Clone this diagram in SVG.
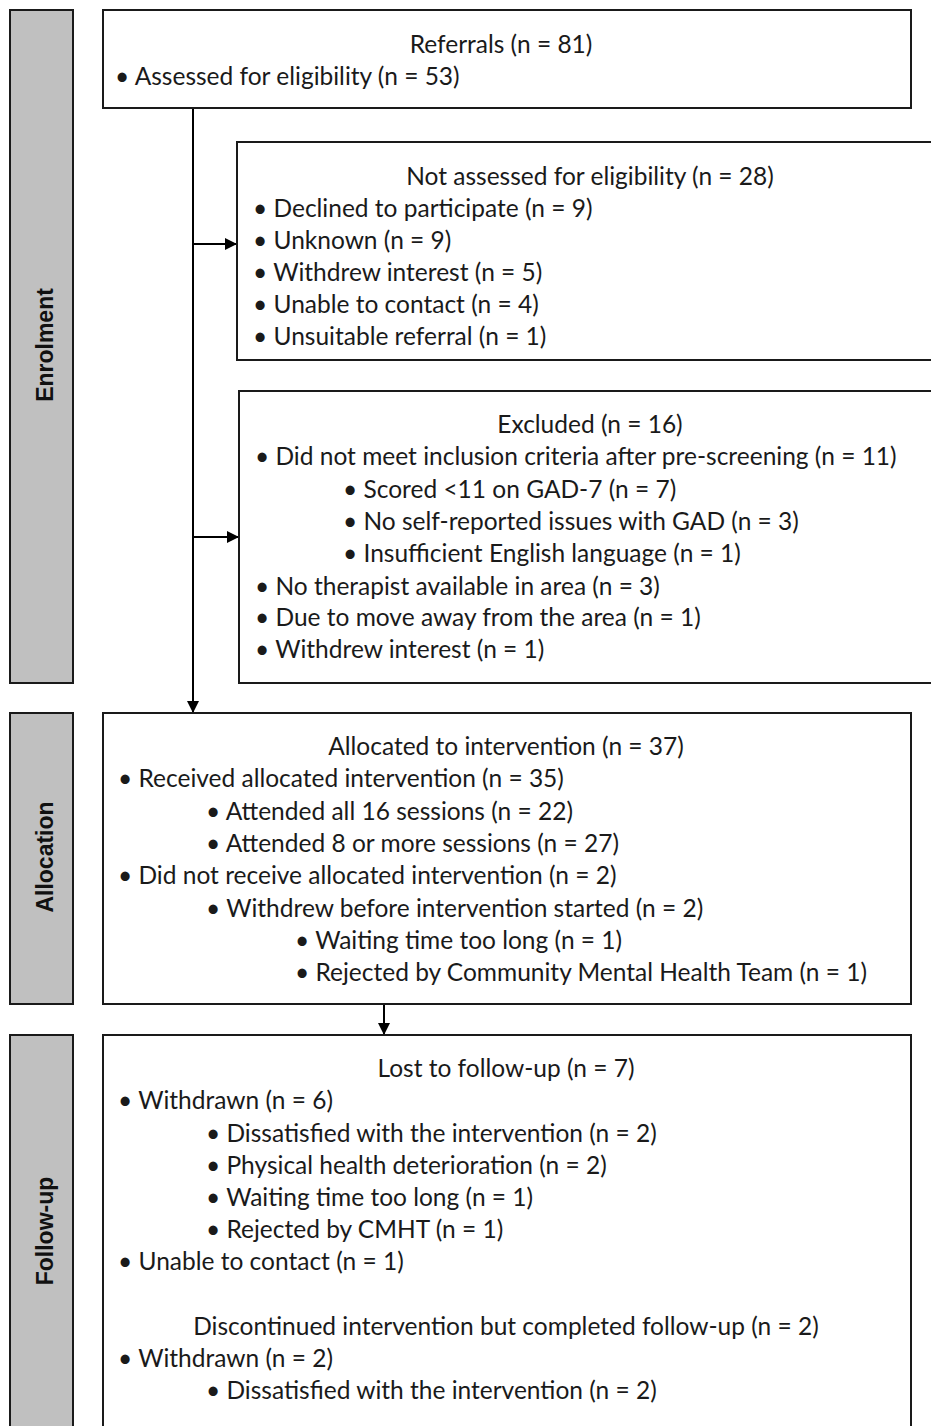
<svg xmlns="http://www.w3.org/2000/svg" width="931" height="1426" viewBox="0 0 931 1426">
<defs>
<marker id="ah" markerWidth="12" markerHeight="12" refX="11" refY="6" orient="auto" markerUnits="userSpaceOnUse">
<path d="M0,0 L12,6 L0,12 Z" fill="#000"/>
</marker>
<style>
.bar{fill:#c0c0c0;stroke:#1a1a1a;stroke-width:2}
.box{fill:#fff;stroke:#1a1a1a;stroke-width:2}
.lbl{font-family:"Liberation Sans",Arial,sans-serif;font-weight:bold;font-size:23px;fill:#111;text-anchor:middle}
.t{font-family:Lato,"Open Sans",sans-serif;font-size:24.5px;fill:#1a1a1a}
.c{text-anchor:middle}
.ln{stroke:#000;stroke-width:2;fill:none}
</style>
</defs>
<rect width="931" height="1426" fill="#fff"/>
<g id="bar-enrolment"><rect class="bar" x="10" y="10" width="63" height="673"/><text class="lbl" transform="translate(53,345) rotate(-90)">Enrolment</text></g>
<g id="bar-allocation"><rect class="bar" x="10" y="713" width="63" height="291"/><text class="lbl" transform="translate(53,857) rotate(-90)">Allocation</text></g>
<g id="bar-followup"><rect class="bar" x="10" y="1035" width="63" height="400"/><text class="lbl" transform="translate(53,1231) rotate(-90)">Follow-up</text></g>

<g id="connectors">
<line class="ln" x1="193" y1="108" x2="193" y2="712" marker-end="url(#ah)"/>
<line class="ln" x1="193" y1="244" x2="236" y2="244" marker-end="url(#ah)"/>
<line class="ln" x1="193" y1="537" x2="238" y2="537" marker-end="url(#ah)"/>
<line class="ln" x1="384" y1="1004" x2="384" y2="1034" marker-end="url(#ah)"/>
</g>

<g id="referrals"><rect class="box" x="103" y="10" width="808" height="98"/>
<text class="t c" x="501" y="53">Referrals (n = 81)</text>
<text class="t" x="115" y="85">• Assessed for eligibility (n = 53)</text></g>

<g id="not-assessed"><rect class="box" x="237" y="142" width="710" height="218"/>
<text class="t c" x="590" y="185">Not assessed for eligibility (n = 28)</text>
<text class="t" x="253" y="217">• Declined to participate (n = 9)</text>
<text class="t" x="253" y="249">• Unknown (n = 9)</text>
<text class="t" x="253" y="281">• Withdrew interest (n = 5)</text>
<text class="t" x="253" y="313">• Unable to contact (n = 4)</text>
<text class="t" x="253" y="345">• Unsuitable referral (n = 1)</text></g>

<g id="excluded"><rect class="box" x="239" y="391" width="710" height="292"/>
<text class="t c" x="590" y="433">Excluded (n = 16)</text>
<text class="t" x="255" y="465">• Did not meet inclusion criteria after pre-screening (n = 11)</text>
<text class="t" x="343" y="498">• Scored &lt;11  on GAD-7 (n = 7)</text>
<text class="t" x="343" y="530">• No self-reported issues with GAD (n = 3)</text>
<text class="t" x="343" y="562">• Insufficient English language (n = 1)</text>
<text class="t" x="255" y="595">• No therapist available in area (n = 3)</text>
<text class="t" x="255" y="626">• Due to move away from the area (n = 1)</text>
<text class="t" x="255" y="658">• Withdrew interest (n = 1)</text></g>

<g id="allocation"><rect class="box" x="103" y="713" width="808" height="291"/>
<text class="t c" x="506" y="755">Allocated to intervention (n = 37)</text>
<text class="t" x="118" y="787">• Received allocated intervention (n = 35)</text>
<text class="t" x="206" y="820">• Attended all 16 sessions (n = 22)</text>
<text class="t" x="206" y="852">• Attended 8 or more sessions (n = 27)</text>
<text class="t" x="118" y="884">• Did not receive allocated intervention (n = 2)</text>
<text class="t" x="206" y="917">• Withdrew before intervention started (n = 2)</text>
<text class="t" x="295" y="949">• Waiting time too long (n = 1)</text>
<text class="t" x="295" y="981">• Rejected by Community Mental Health Team (n = 1)</text></g>

<g id="followup"><rect class="box" x="103" y="1035" width="808" height="400"/>
<text class="t c" x="506" y="1077">Lost to follow-up (n = 7)</text>
<text class="t" x="118" y="1109">• Withdrawn (n = 6)</text>
<text class="t" x="206" y="1142">• Dissatisfied with the intervention (n = 2)</text>
<text class="t" x="206" y="1174">• Physical health deterioration (n = 2)</text>
<text class="t" x="206" y="1206">• Waiting time too long (n = 1)</text>
<text class="t" x="206" y="1238">• Rejected by CMHT (n = 1)</text>
<text class="t" x="118" y="1270">• Unable to contact (n = 1)</text>
<text class="t c" x="506" y="1335">Discontinued intervention but completed follow-up (n = 2)</text>
<text class="t" x="118" y="1367">• Withdrawn (n = 2)</text>
<text class="t" x="206" y="1399">• Dissatisfied with the intervention (n = 2)</text></g>
</svg>
